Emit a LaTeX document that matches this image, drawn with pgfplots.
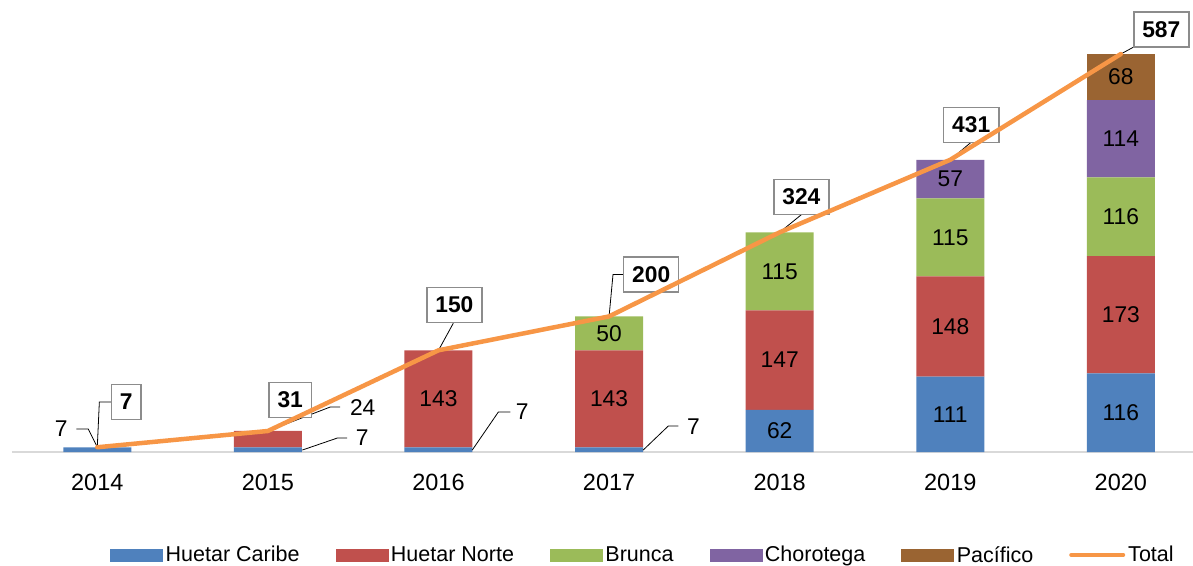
\documentclass[border=0pt]{standalone}
\usepackage{fontspec}
\setmainfont{Liberation Sans}
\usepackage{pgfplots}
\pgfplotsset{compat=1.18}
\definecolor{hc}{HTML}{4F81BD}
\definecolor{hn}{HTML}{C0504D}
\definecolor{br}{HTML}{9BBB59}
\definecolor{ch}{HTML}{8064A2}
\definecolor{pa}{HTML}{9A6432}
\definecolor{tot}{HTML}{F79646}
\definecolor{axisgray}{HTML}{D9D9D9}
\definecolor{boxgray}{HTML}{8C8C8C}
\newcommand\lbl{\fontsize{22.8}{27}\selectfont}
\newcommand\tck{\fontsize{23.5}{28}\selectfont}
\newcommand\lgd{\fontsize{21.5}{26}\selectfont}
\pgfplotsset{
  common/.style={
    at={(0pt,0pt)}, anchor=south west,
    scale only axis, width=1181pt, height=447.5pt,
    xmin=-0.5, xmax=6.423, ymin=0, ymax=660,
    clip=false,
  }
}
\tikzset{
  tb/.style={draw=boxgray, line width=1.5pt, fill=white, font=\lbl\bfseries, inner xsep=8.5pt, minimum height=35pt},
  ld/.style={draw=black, line width=0.8pt},
  il/.style={font=\lbl, inner sep=0pt},
}
\begin{document}
\begin{tikzpicture}
\path[use as bounding box] (-12pt,-113pt) rectangle (1181pt,452pt);
\begin{axis}[common,
  ybar stacked, bar width=68pt,
  axis x line*=bottom, axis y line=none,
  x axis line style={draw=axisgray, line width=1.5pt, -},
  xtick={0,1,2,3,4,5,6},
  xticklabels={2014,2015,2016,2017,2018,2019,2020},
  ytick=\empty,
  major tick length=0pt,
  xticklabel style={font=\tck, anchor=center, yshift=-30pt},
]
\addplot[fill=hc, draw=none] coordinates {(0,7) (1,7) (2,7) (3,7) (4,62) (5,111) (6,116)};
\addplot[fill=hn, draw=none] coordinates {(0,0) (1,24) (2,143) (3,143) (4,147) (5,148) (6,173)};
\addplot[fill=br, draw=none] coordinates {(0,0) (1,0) (2,0) (3,50) (4,115) (5,115) (6,116)};
\addplot[fill=ch, draw=none] coordinates {(0,0) (1,0) (2,0) (3,0) (4,0) (5,57) (6,114)};
\addplot[fill=pa, draw=none] coordinates {(0,0) (1,0) (2,0) (3,0) (4,0) (5,0) (6,68)};
\end{axis}

\begin{axis}[common,
  axis lines=none,
  legend style={at={(0.5347,-0.230)}, anchor=center, draw=none, fill=none,
    font=\lgd, legend columns=6, legend cell align=left,
    nodes={inner sep=3pt},
    /tikz/every even column/.append style={column sep=33pt}},
]
% in-bar labels
\node[il] at (axis cs:2,78.5) {143};
\node[il] at (axis cs:3,78.5) {143};
\node[il] at (axis cs:3,175) {50};
\node[il] at (axis cs:4,31) {62};
\node[il] at (axis cs:4,135.5) {147};
\node[il] at (axis cs:4,266.5) {115};
\node[il] at (axis cs:5,55.5) {111};
\node[il] at (axis cs:5,185) {148};
\node[il] at (axis cs:5,316.5) {115};
\node[il] at (axis cs:5,402.5) {57};
\node[il] at (axis cs:6,58) {116};
\node[il] at (axis cs:6,202.5) {173};
\node[il] at (axis cs:6,347) {116};
\node[il] at (axis cs:6,462) {114};
\node[il] at (axis cs:6,553) {68};

% outside small labels with leaders
\draw[ld] (axis cs:0,7.4) -- (axis cs:-0.053,34) -- (axis cs:-0.123,34);
\node[il] at (axis cs:-0.211,34) {7};
\draw[ld] (axis cs:1,31) -- (axis cs:1.366,66.4) -- (axis cs:1.424,66.4);
\node[il] at (axis cs:1.556,64.9) {24};
\draw[ld] (axis cs:1.202,2.9) -- (axis cs:1.407,20.6) -- (axis cs:1.465,20.6);
\node[il] at (axis cs:1.553,20.6) {7};
\draw[ld] (axis cs:2.198,2.9) -- (axis cs:2.351,59) -- (axis cs:2.421,59);
\node[il] at (axis cs:2.491,59) {7};
\draw[ld] (axis cs:3.2,2.9) -- (axis cs:3.347,38.3) -- (axis cs:3.406,38.3);
\node[il] at (axis cs:3.494,36.9) {7};

% total boxes with leaders
\draw[ld] (axis cs:0,7.4) -- (axis cs:0.012,73.7) -- (axis cs:0.082,73.7);
\node[tb] at (axis cs:0.170,73.7) {7};
\draw[ld] (axis cs:1,31) -- (axis cs:1.170,51.6);
\node[tb] at (axis cs:1.131,76.7) {31};
\draw[ld] (axis cs:2,150) -- (axis cs:2.087,190);
\node[tb] at (axis cs:2.093,216.8) {150};
\draw[ld] (axis cs:3,200) -- (axis cs:3.023,261.8) -- (axis cs:3.083,261.8);
\node[tb] at (axis cs:3.247,261.8) {200};
\draw[ld] (axis cs:4,324) -- (axis cs:4.127,350);
\node[tb] at (axis cs:4.127,376) {324};
\draw[ld] (axis cs:5,431) -- (axis cs:5.123,457);
\node[tb] at (axis cs:5.123,482.3) {431};
\draw[ld] (axis cs:6,587) -- (axis cs:6.073,597);
\node[tb] at (axis cs:6.237,623.2) {587};

\addlegendimage{legend image code/.code={\fill[hc] (0pt,-6pt) rectangle (52pt,6pt);}}
\addlegendentry{Huetar Caribe}
\addlegendimage{legend image code/.code={\fill[hn] (0pt,-6pt) rectangle (52pt,6pt);}}
\addlegendentry{Huetar Norte}
\addlegendimage{legend image code/.code={\fill[br] (0pt,-6pt) rectangle (52pt,6pt);}}
\addlegendentry{Brunca}
\addlegendimage{legend image code/.code={\fill[ch] (0pt,-6pt) rectangle (52pt,6pt);}}
\addlegendentry{Chorotega}
\addlegendimage{legend image code/.code={\fill[pa] (0pt,-6pt) rectangle (52pt,6pt);}}
\addlegendentry{Pacífico}
\addplot[tot, line width=4.5pt, line join=round, line cap=round, mark=none,
  legend image code/.code={\draw[tot, line width=4pt, line cap=round] (0pt,0pt) -- (52pt,0pt);}]
  coordinates {(0,7) (1,31) (2,150) (3,200) (4,324) (5,431) (6,587)};
\addlegendentry{Total}
\end{axis}
\end{tikzpicture}
\end{document}
